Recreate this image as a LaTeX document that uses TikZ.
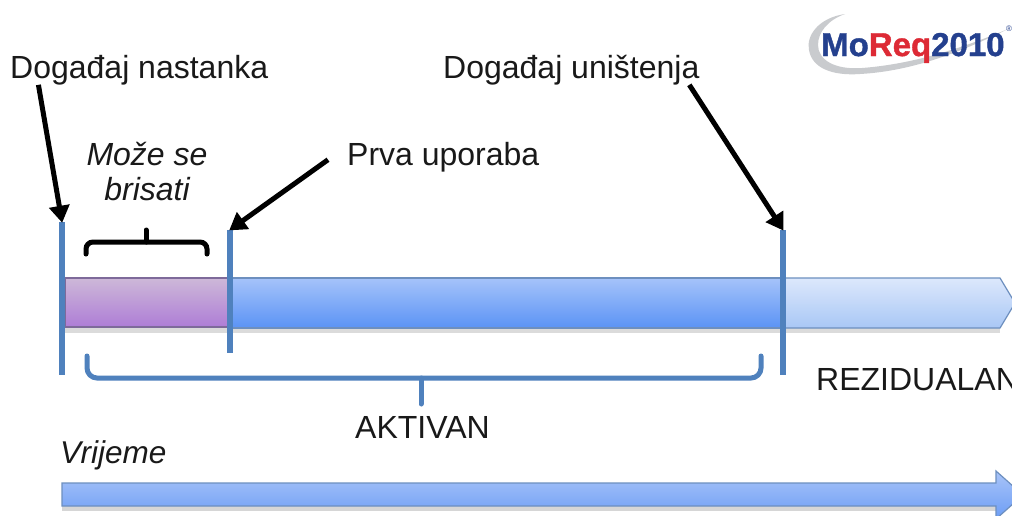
\documentclass[tikz,border=0pt]{standalone}
\usepackage{fontspec}
\setmainfont{Liberation Sans}
\newfontfamily\logofont[BoldFeatures={FakeBold=1.2}]{Liberation Sans}
\usetikzlibrary{arrows.meta,calc}
\definecolor{barblue}{HTML}{4F81BD}
\definecolor{edgeblue}{HTML}{6D8FBF}
\definecolor{logoblue}{HTML}{24408E}
\definecolor{logored}{HTML}{DD2A35}
\definecolor{swoosh}{HTML}{C9CBCE}
\definecolor{timetop}{HTML}{A9C4F8}
\definecolor{timebot}{HTML}{6C9DF5}
\definecolor{midtop}{HTML}{A5C3FA}
\definecolor{midbot}{HTML}{5B93F5}
\definecolor{lighttop}{HTML}{DCE8FC}
\definecolor{lightbot}{HTML}{A9C7F5}
\definecolor{purptop}{HTML}{CDB8D8}
\definecolor{purpbot}{HTML}{AE7DD6}
\definecolor{purpedge}{HTML}{7E6A9A}
\tikzset{
  label/.style={inner sep=0pt,text=black!90,font=\fontsize{32}{35}\selectfont},
  vbar/.style={inner sep=0pt,minimum width=5.5pt,fill=barblue,draw=none},
  pointer/.style={draw=black,line width=5pt,-{Triangle[length=17pt,width=20pt]},shorten >=-1pt},
  brace/.style={line width=5pt,rounded corners=7pt,line cap=round},
  segment/.style={draw=edgeblue,line width=1.2pt}
}
\begin{document}
\begin{tikzpicture}[x=1pt,y=-1pt]
\useasboundingbox (0,0) rectangle (1012,515);
\clip (0,0) rectangle (1012,515);
\fill[white] (0,0) rectangle (1012,515);
% logo
\fill[swoosh] (845,14) .. controls (818,18) and (806,36) .. (809,50)
  .. controls (812,68) and (832,76) .. (860,74)
  .. controls (915,71) and (965,50) .. (1008,29)
  .. controls (965,47) and (915,64) .. (862,68)
  .. controls (835,70) and (818,60) .. (818,45)
  .. controls (818,32) and (828,20) .. (845,14) -- cycle;
\node[inner sep=0pt,anchor=base west,font=\fontsize{33}{36}\selectfont\logofont\bfseries] (logo) at (821,56)
  {\textcolor{logoblue}{Mo}\textcolor{logored}{Req}\textcolor{logoblue}{2010}};
\node[inner sep=0pt,font=\fontsize{8}{9}\selectfont,text=logoblue] (reg) at (1009,29) {®};
% time arrow
\fill[black!16] (62,506) -- (996,506) -- (996,511) -- (62,511) -- cycle;
\path[top color=timetop,bottom color=timebot,draw=edgeblue,line width=1.2pt]
  (62,483) -- (996,483) -- (996,471) -- (1023,495) -- (996,519) -- (996,506) -- (62,506) -- cycle;
% main bar
\fill[black!14] (65,328) rectangle (1000,333);
\path[segment,top color=lighttop,bottom color=lightbot]
  (782,278) -- (1000,278) -- (1015,303) -- (1000,328) -- (782,328) -- cycle;
\path[segment,top color=midtop,bottom color=midbot]
  (229,278) rectangle (782,328);
\path[draw=purpedge,line width=1.2pt,top color=purptop,bottom color=purpbot]
  (65,278) rectangle (229,327);
% vertical bars
\node[vbar,minimum height=153pt] (start) at (62,298.5) {};
\node[vbar,minimum height=123pt] (first) at (230,291.5) {};
\node[vbar,minimum height=145pt] (end) at (783,302.5) {};
% braces
\draw[brace] (86,254) -- (86,242) -- (207,242) -- (207,254);
\draw[brace,rounded corners=0pt] (146,242) -- (146,230);
\draw[brace,draw=barblue,rounded corners=10pt] (87,356) -- (87,378) -- (761,378) -- (761,356);
\draw[brace,draw=barblue,rounded corners=0pt] (421,378) -- (421,404);
% labels
\node[label,anchor=base west] (nastanak) at (10,78) {Događaj nastanka};
\node[label,anchor=base west] (unistenje) at (443,78) {Događaj uništenja};
\node[label,anchor=base west] (prva) at (347,165) {Prva uporaba};
\node[label,align=center,font=\fontsize{32}{35}\selectfont\itshape] (brisati) at (147,172) {Može se\\brisati};
\node[label,anchor=base west] (aktivan) at (355,438) {AKTIVAN};
\node[label,anchor=base west] (rezidualan) at (816,390) {REZIDUALAN};
\node[label,anchor=base west,font=\fontsize{31.5}{35}\selectfont\itshape] (vrijeme) at (60,463) {Vrijeme};
% connectors
\draw[pointer] ($(nastanak.south west)!0.11!(nastanak.south east)$) -- (start.north);
\draw[pointer] ($(unistenje.south west)!0.96!(unistenje.south east)$) -- (end.north);
\draw[pointer] ($(prva.west)+(-19,3)$) -- (first.north);
\end{tikzpicture}
\end{document}
